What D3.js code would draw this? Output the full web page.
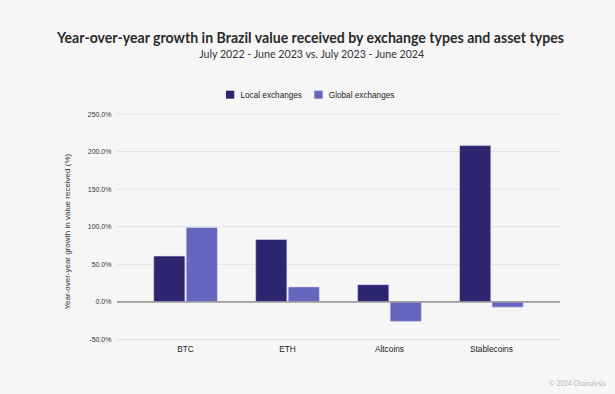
<!DOCTYPE html>
<html lang="en">
<head>
  <meta charset="UTF-8" />
  <script src="https://unpkg.com/d3@7/dist/d3.min.js"></script>
  <title>Brazil YoY growth</title>
  <style>
    body { margin: 0; background: #f6f6f7; }
    svg { display: block; }
  </style>
</head>
<body>
  <svg width="615" height="394"></svg>
  <script>
    // data
    const categories = ["BTC", "ETH", "Altcoins", "Stablecoins"];
    const series = ["Local exchanges", "Global exchanges"];
    const localValues = [61, 83, 23, 208];
    const globalValues = [99, 20, -26, -7];
    const yTicks = [-50, 0, 50, 100, 150, 200, 250];
    const colors = ["#2e2570", "#6467bd"];

    const svg = d3.select("svg");
    const width = +svg.attr("width");

    svg.append("rect").attr("width", width).attr("height", 394).attr("fill", "#f6f6f7");

    const plotLeft = 117, plotRight = 560, plotTop = 114, plotBottom = 339.5;

    const x = d3.scaleBand()
      .domain(categories)
      .range([plotLeft, plotRight])
      .paddingInner(0.375)
      .paddingOuter(0.36);
    const xSub = d3.scaleBand()
      .domain(series)
      .range([0, x.bandwidth()])
      .paddingInner(0.04);
    const y = d3.scaleLinear().domain([-50, 250]).range([plotBottom, plotTop]);

    // titles
    svg.append("text")
      .attr("x", 310.5).attr("y", 42.5)
      .attr("text-anchor", "middle")
      .attr("textLength", 507).attr("lengthAdjust", "spacingAndGlyphs")
      .style("font-family", "Lato, 'Noto Sans', sans-serif")
      .style("font-weight", 700).style("font-size", "15px").style("fill", "#2a2a2a")
      .text("Year-over-year growth in Brazil value received by exchange types and asset types");
    svg.append("text")
      .attr("x", 311.7).attr("y", 58.3)
      .attr("text-anchor", "middle")
      .attr("textLength", 225).attr("lengthAdjust", "spacingAndGlyphs")
      .style("font-family", "Lato, 'Noto Sans', sans-serif")
      .style("font-size", "10.5px").style("fill", "#333")
      .text("July 2022 - June 2023 vs. July 2023 - June 2024");

    // legend
    const legendX = [226, 314.3];
    const legend = svg.append("g").selectAll("g").data(series).enter().append("g")
      .attr("transform", (d, i) => `translate(${legendX[i]},90.7)`);
    legend.append("rect").attr("width", 8.3).attr("height", 8).attr("fill", (d, i) => colors[i]);
    legend.append("text")
      .attr("x", 14.5).attr("y", 6.8)
      .style("font-family", "'Liberation Sans', Arial, sans-serif")
      .style("font-size", "8.2px").style("fill", "#222")
      .text(d => d);

    // gridlines + y ticks
    const yAxis = svg.append("g");
    yAxis.selectAll("line").data(yTicks).enter().append("line")
      .attr("x1", plotLeft).attr("x2", plotRight)
      .attr("y1", d => y(d)).attr("y2", d => y(d))
      .attr("stroke", d => d === 0 ? "#9a9a9a" : "#e1e1e3")
      .attr("stroke-width", d => d === 0 ? 1.2 : 1);
    yAxis.selectAll("text").data(yTicks).enter().append("text")
      .attr("x", 111.5).attr("y", d => y(d) + 2.5)
      .attr("text-anchor", "end")
      .style("font-family", "'Liberation Sans', Arial, sans-serif")
      .style("font-size", "7px").style("fill", "#333")
      .text(d => d.toFixed(1) + "%");

    svg.append("text")
      .attr("transform", "translate(69.5,231.7) rotate(-90)")
      .attr("text-anchor", "middle")
      .style("font-family", "'Liberation Sans', Arial, sans-serif")
      .style("font-size", "8px").style("fill", "#333")
      .text("Year-over-year growth in value received (%)");

    // bars
    const rows = categories.map((c, i) => ({ cat: c, vals: [localValues[i], globalValues[i]] }));
    const groups = svg.append("g").selectAll("g").data(rows).enter().append("g")
      .attr("transform", d => `translate(${x(d.cat)},0)`);
    groups.selectAll("rect")
      .data(d => d.vals.map((v, i) => ({ key: series[i], v, i })))
      .enter().append("rect")
      .attr("x", d => xSub(d.key))
      .attr("width", xSub.bandwidth())
      .attr("y", d => y(Math.max(0, d.v)))
      .attr("height", d => Math.abs(y(d.v) - y(0)))
      .attr("rx", 1)
      .attr("fill", d => colors[d.i])
      .attr("stroke", "#d9d9f0").attr("stroke-width", 0.6);

    // redraw zero line on top of bars
    svg.append("line")
      .attr("x1", plotLeft).attr("x2", plotRight)
      .attr("y1", y(0)).attr("y2", y(0))
      .attr("stroke", "#9a9a9a").attr("stroke-width", 1.2);

    // category labels
    svg.append("g").selectAll("text").data(categories).enter().append("text")
      .attr("x", d => x(d) + x.bandwidth() / 2)
      .attr("y", 352)
      .attr("text-anchor", "middle")
      .style("font-family", "'Liberation Sans', Arial, sans-serif")
      .style("font-size", "8.3px").style("fill", "#222")
      .text(d => d);

    svg.append("text")
      .attr("x", 605.5).attr("y", 385.5)
      .attr("text-anchor", "end")
      .style("font-family", "Lato, 'Noto Sans', sans-serif")
      .style("font-size", "6.6px").style("fill", "#b5b5b8")
      .text("© 2024 Chainalysis");
  </script>
</body>
</html>
